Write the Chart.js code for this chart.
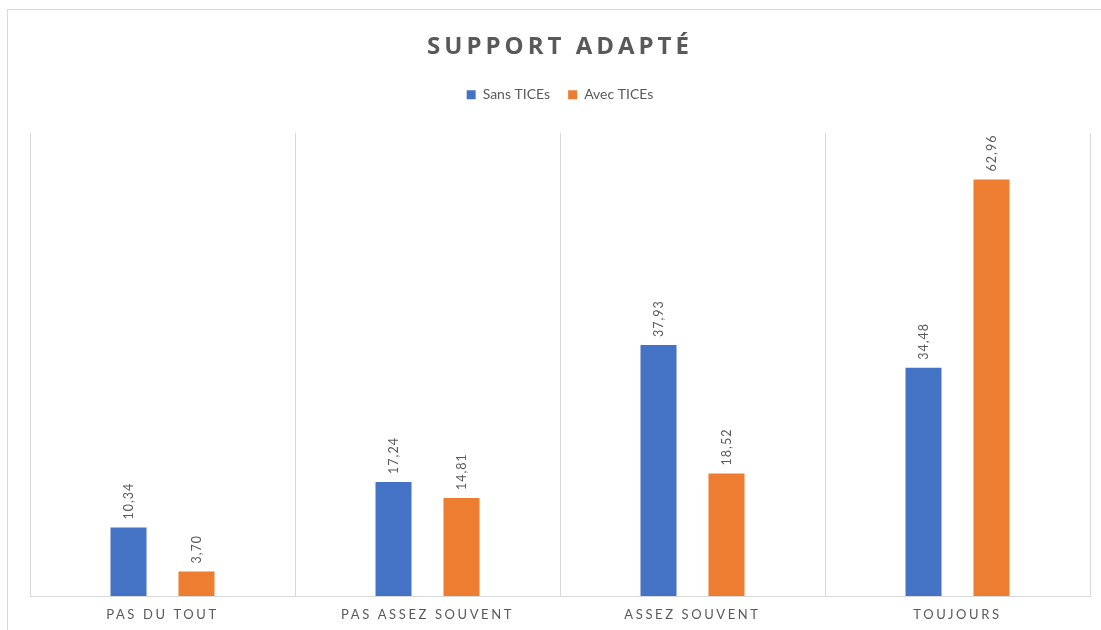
<!DOCTYPE html>
<html>
<head>
<meta charset="utf-8">
<script src="https://cdn.jsdelivr.net/npm/chart.js@4/dist/chart.umd.min.js"></script>
<style>
  html, body { margin: 0; padding: 0; background: #ffffff; }
  #wrap { position: relative; width: 1101px; height: 630px; }
</style>
</head>
<body>
<div id="wrap"><canvas id="c" width="1101" height="630"></canvas></div>
<script>
const chartTitle = 'SUPPORT ADAPTÉ';
const categories = ['PAS DU TOUT', 'PAS ASSEZ SOUVENT', 'ASSEZ SOUVENT', 'TOUJOURS'];
const seriesNames = ['Sans TICEs', 'Avec TICEs'];
const sansTICEs = [10.34, 17.24, 37.93, 34.48];
const avecTICEs = [3.70, 14.81, 18.52, 62.96];
const seriesColors = ['#4472C4', '#ED7D31'];

const GREY = '#595959';

const framePlugin = {
  id: 'frame',
  afterInit(chart) {
    const lg = chart.legend;
    if (lg && !lg._patched) {
      lg._patched = true;
      const of = lg.fit.bind(lg);
      lg.fit = function () { of(); this.height += 21; };
    }
  },
  beforeDraw(chart) {
    const ctx = chart.ctx;
    ctx.save();
    ctx.strokeStyle = '#d9d9d9';
    ctx.lineWidth = 1;
    ctx.strokeRect(7.5, 9.5, 1200, 1000);
    ctx.restore();
    if (!chart._spacingPatched) {
      chart._spacingPatched = true;
      const tb = chart.titleBlock;
      const origTitle = tb.draw.bind(tb);
      tb.draw = function (a) {
        const c = chart.ctx; c.save(); c.letterSpacing = '4px'; origTitle(a); c.restore();
      };
      const xs = chart.scales.x;
      const origLabels = xs.drawLabels.bind(xs);
      xs.drawLabels = function (a) {
        const c = chart.ctx; c.save(); c.letterSpacing = '2.6px'; origLabels(a); c.restore();
      };
    }
  }
};

const valueLabels = {
  id: 'valueLabels',
  afterDatasetsDraw(chart) {
    const ctx = chart.ctx;
    ctx.save();
    ctx.fillStyle = GREY;
    ctx.font = '12.5px Lato, "Open Sans", sans-serif';
    ctx.letterSpacing = '1px';
    ctx.textAlign = 'left';
    ctx.textBaseline = 'middle';
    chart.data.datasets.forEach((ds, di) => {
      const meta = chart.getDatasetMeta(di);
      meta.data.forEach((el, i) => {
        const txt = ds.data[i].toFixed(2).replace('.', ',');
        ctx.save();
        ctx.translate(el.x, el.y - 8);
        ctx.rotate(-Math.PI / 2);
        ctx.fillText(txt, 0, 0);
        ctx.restore();
      });
    });
    ctx.restore();
  }
};

new Chart(document.getElementById('c'), {
  type: 'bar',
  data: {
    labels: categories,
    datasets: [
      { label: seriesNames[0], data: sansTICEs, backgroundColor: seriesColors[0] },
      { label: seriesNames[1], data: avecTICEs, backgroundColor: seriesColors[1] }
    ]
  },
  options: {
    responsive: false,
    animation: false,
    devicePixelRatio: 1,
    categoryPercentage: 0.513,
    barPercentage: 0.53,
    layout: { padding: { left: 30, right: 11, top: 0, bottom: 0 } },
    plugins: {
      title: {
        display: true,
        text: chartTitle,
        color: GREY,
        font: { family: '"Open Sans", sans-serif', size: 24, weight: 'bold' },
        padding: { top: 33, bottom: 8 }
      },
      legend: {
        display: true,
        position: 'top',
        labels: {
          color: GREY,
          boxWidth: 9,
          boxHeight: 9,
          padding: 18,
          font: { family: 'Lato, "Open Sans", sans-serif', size: 14 }
        }
      },
      tooltip: { enabled: false }
    },
    scales: {
      x: {
        offset: true,
        grid: { offset: true, color: '#d9d9d9', lineWidth: 1, drawTicks: false },
        border: { display: true, color: '#d9d9d9' },
        ticks: {
          color: GREY,
          padding: 11,
          font: { family: 'Lato, "Open Sans", sans-serif', size: 13 }
        },
        afterFit(scale) { scale.height = 34; }
      },
      y: {
        display: false,
        min: 0,
        max: 70
      }
    }
  },
  plugins: [framePlugin, valueLabels]
});
</script>
</body>
</html>
